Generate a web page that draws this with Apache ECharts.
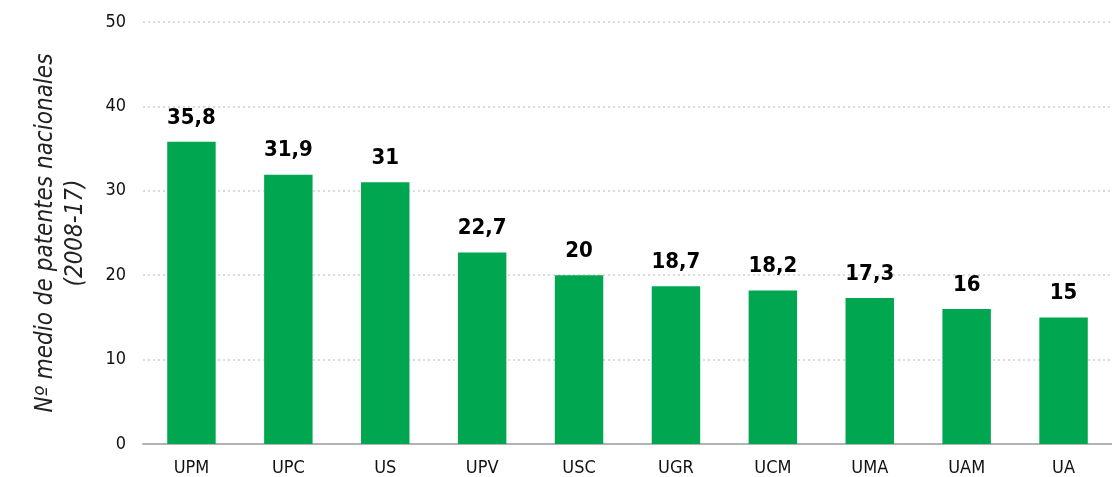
<!DOCTYPE html>
<html>
  <head>
    <meta charset="utf-8" />
    <title>Patentes</title>
    <script src="https://cdn.jsdelivr.net/npm/echarts@6/dist/echarts.min.js"></script>
  </head>
  <body style="margin:0;background:#fff">
    <div id="main" style="width:1112px;height:477px;"></div>
    <script type="text/javascript">
      var universidades = ['UPM', 'UPC', 'US', 'UPV', 'USC', 'UGR', 'UCM', 'UMA', 'UAM', 'UA'];
      var patentes = [35.8, 31.9, 31, 22.7, 20, 18.7, 18.2, 17.3, 16, 15];
      var tituloEje = 'Nº medio de patentes nacionales\n(2008-17)';

      var fuente = '"Liberation Sans Narrow", "DejaVu Sans Condensed", sans-serif';
      var myChart = echarts.init(document.getElementById('main'));

      var option = {
        animation: false,
        grid: { left: 143, right: -3, top: 22, bottom: 33 },
        xAxis: {
          type: 'category',
          data: universidades,
          axisLine: { lineStyle: { color: '#b3b3b3', width: 2 } },
          axisTick: { show: false },
          axisLabel: { color: '#111', fontSize: 18, fontFamily: fuente, margin: 15 }
        },
        yAxis: {
          type: 'value',
          min: 0,
          max: 50,
          interval: 10,
          name: tituloEje,
          nameLocation: 'middle',
          nameGap: 52,
          nameTextStyle: { fontSize: 24, fontStyle: 'italic', fontFamily: fuente, color: '#222', lineHeight: 30 },
          axisLabel: { color: '#111', fontSize: 18, fontFamily: fuente, margin: 17 },
          splitLine: { lineStyle: { color: '#cfcfcf', type: [2, 3], width: 1.5 } }
        },
        series: [{
          type: 'bar',
          data: patentes,
          barWidth: '50%',
          itemStyle: { color: '#00a650' },
          label: {
            show: true,
            position: 'top',
            distance: 13,
            fontSize: 22,
            fontWeight: 'bold',
            fontFamily: fuente,
            color: '#000',
            formatter: function (p) { return String(p.value).replace('.', ','); }
          }
        }]
      };
      myChart.setOption(option);
    </script>
  </body>
</html>
